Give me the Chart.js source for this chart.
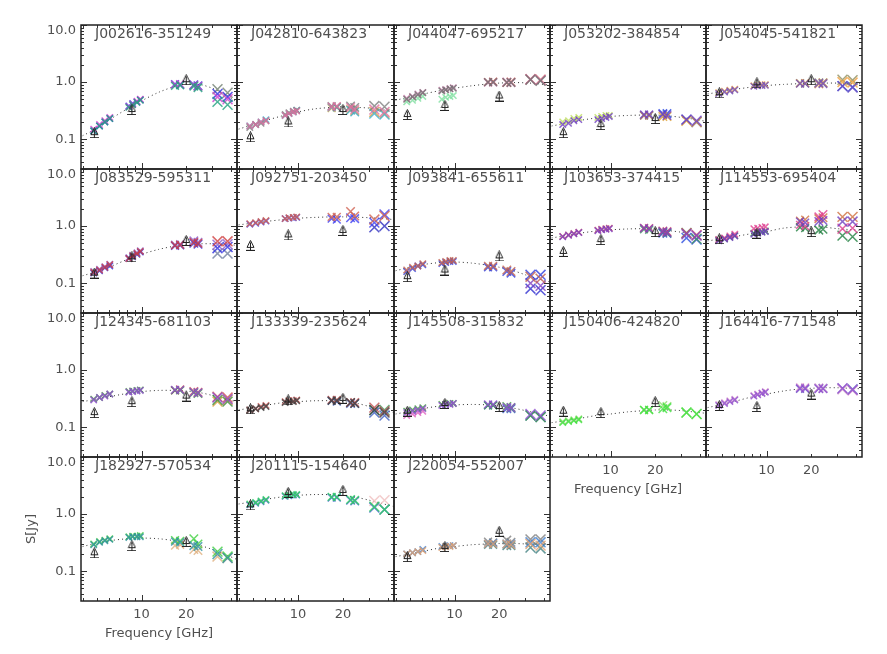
<!DOCTYPE html>
<html>
<head>
<meta charset="utf-8">
<script src="https://cdn.jsdelivr.net/npm/chart.js@4.4.0/dist/chart.umd.min.js"></script>
<style>
  html, body { margin: 0; padding: 0; background: #fff; }
  #page { position: relative; width: 887px; height: 654px; overflow: hidden; background: #fff; }
  #page canvas { position: absolute; }
</style>
</head>
<body>
<div id="page"></div>
<script>
const _ = null;

const NAMES = [
  'J002616-351249', 'J042810-643823', 'J044047-695217', 'J053202-384854', 'J054045-541821',
  'J083529-595311', 'J092751-203450', 'J093841-655611', 'J103653-374415', 'J114553-695404',
  'J124345-681103', 'J133339-235624', 'J145508-315832', 'J150406-424820', 'J164416-771548',
  'J182927-570534', 'J201115-154640', 'J220054-552007',
];

// frequencies [GHz] of the monitoring sub-bands (crosses)
const FREQ = [4.75, 5.2, 5.65, 6.1, 8.2, 8.7, 9.3, 9.8, 16.8, 18.2, 22.5, 24.0, 32.5, 38.0];
// AT20G points (triangles)
const AT20G_FREQ = [4.8, 8.6, 20];
const FIT_FREQ = [4, 5, 6, 8, 10, 13, 17, 20, 25, 30, 36, 44];

const X_TICKS = [10, 20];
const Y_TICKS = [0.1, 1, 10];

// AT20G flux [Jy] per source
const AT20G_FLUX = [
  [0.13, 0.33, 1.1],
  [0.11, 0.2, 0.33],
  [0.27, 0.39, 0.57],
  [0.13, 0.18, 0.23],
  [0.65, 0.97, 1.1],
  [0.15, 0.29, 0.56],
  [0.46, 0.7, 0.84],
  [0.13, 0.17, 0.3],
  [0.36, 0.58, 0.8],
  [0.6, 0.75, 0.8],
  [0.18, 0.28, 0.35],
  [0.21, 0.3, 0.32],
  [0.19, 0.26, 0.23],
  [0.19, 0.18, 0.28],
  [0.24, 0.23, 0.38],
  [0.21, 0.28, 0.33],
  [1.45, 2.4, 2.6],
  [0.18, 0.27, 0.5],
];

// fitted curve [Jy] at FIT_FREQ per source
const FIT_FLUX = [
  [0.115, 0.155, 0.215, 0.34, 0.47, 0.66, 0.85, 0.93, 0.9, 0.78, 0.62, 0.45],
  [0.15, 0.18, 0.21, 0.26, 0.3, 0.34, 0.36, 0.37, 0.36, 0.35, 0.33, 0.31],
  [0.48, 0.55, 0.61, 0.71, 0.78, 0.86, 0.93, 0.96, 0.98, 0.97, 0.94, 0.88],
  [0.17, 0.19, 0.21, 0.235, 0.25, 0.26, 0.265, 0.265, 0.255, 0.24, 0.225, 0.205],
  [0.62, 0.68, 0.74, 0.82, 0.87, 0.91, 0.94, 0.95, 0.96, 0.96, 0.95, 0.93],
  [0.135, 0.16, 0.19, 0.26, 0.32, 0.39, 0.45, 0.48, 0.49, 0.49, 0.48, 0.46],
  [1.05, 1.13, 1.2, 1.3, 1.37, 1.42, 1.45, 1.45, 1.43, 1.4, 1.36, 1.3],
  [0.165, 0.19, 0.21, 0.23, 0.235, 0.225, 0.205, 0.19, 0.165, 0.14, 0.12, 0.105],
  [0.62, 0.68, 0.74, 0.82, 0.86, 0.89, 0.9, 0.88, 0.83, 0.78, 0.72, 0.66],
  [0.55, 0.6, 0.65, 0.74, 0.8, 0.92, 0.97, 0.98, 0.95, 0.9, 0.87, 0.84],
  [0.28, 0.31, 0.34, 0.39, 0.42, 0.44, 0.44, 0.43, 0.4, 0.36, 0.32, 0.28],
  [0.2, 0.22, 0.24, 0.27, 0.28, 0.29, 0.29, 0.28, 0.26, 0.23, 0.2, 0.18],
  [0.17, 0.19, 0.21, 0.235, 0.245, 0.25, 0.245, 0.235, 0.215, 0.195, 0.175, 0.155],
  [0.12, 0.13, 0.14, 0.16, 0.17, 0.185, 0.195, 0.2, 0.2, 0.195, 0.185, 0.175],
  [0.22, 0.25, 0.28, 0.34, 0.38, 0.43, 0.47, 0.48, 0.49, 0.49, 0.48, 0.47],
  [0.27, 0.31, 0.34, 0.37, 0.38, 0.37, 0.34, 0.32, 0.28, 0.24, 0.2, 0.16],
  [1.5, 1.65, 1.8, 2.02, 2.13, 2.2, 2.18, 2.12, 1.95, 1.75, 1.55, 1.35],
  [0.18, 0.2, 0.22, 0.255, 0.27, 0.29, 0.3, 0.305, 0.305, 0.3, 0.295, 0.29],
];

// flux [Jy] at FREQ for each observing epoch, per source
const EPOCH_FLUX = [
  [ [0.14, 0.17, 0.2, 0.23, 0.36, 0.4, 0.44, 0.48, 0.86, 0.88, 0.85, 0.8, 0.45, 0.4],
    [0.15, 0.18, 0.21, 0.24, 0.37, 0.41, 0.46, 0.5, 0.9, 0.92, 0.88, 0.84, 0.55, 0.5],
    [0.14, 0.17, 0.2, 0.23, 0.38, 0.42, 0.45, 0.49, 0.92, 0.9, 0.9, 0.86, 0.62, 0.55],
    [_, _, _, _, _, _, _, _, _, _, _, _, 0.75, 0.65] ],
  [ [0.17, 0.18, 0.2, 0.21, 0.26, 0.28, 0.3, 0.31, 0.37, 0.38, 0.36, 0.33, 0.33, 0.3],
    [0.16, 0.18, 0.19, 0.21, 0.27, 0.29, 0.31, 0.32, 0.38, 0.37, 0.38, 0.36, 0.38, 0.37],
    [0.17, 0.18, 0.2, 0.22, 0.26, 0.28, 0.3, 0.32, 0.36, 0.36, 0.32, 0.3, 0.28, 0.27],
    [_, _, _, _, _, _, _, _, 0.35, 0.36, 0.33, 0.31, 0.3, 0.28] ],
  [ [0.5, 0.55, 0.6, 0.65, 0.7, 0.73, 0.76, 0.78, 1.0, 1.0, 0.98, 0.98, 1.1, 1.05],
    [0.52, 0.56, 0.62, 0.66, 0.72, 0.74, 0.77, 0.8, 0.98, 0.98, 1.0, 0.97, 1.12, 1.08],
    [0.45, 0.48, 0.52, 0.56, 0.5, 0.54, 0.56, 0.58, _, _, _, _, _, _],
    [_, _, _, _, _, _, _, _, 1.0, 1.02, 0.98, 1.0, 1.12, 1.1] ],
  [ [0.18, 0.19, 0.21, 0.22, 0.22, 0.23, 0.24, 0.25, 0.27, 0.27, 0.27, 0.26, 0.22, 0.21],
    [0.2, 0.21, 0.23, 0.24, 0.24, 0.25, 0.26, 0.26, _, _, _, _, _, _],
    [_, _, _, _, _, _, _, _, 0.26, 0.26, 0.25, 0.25, 0.21, 0.2],
    [_, _, _, _, _, _, _, _, 0.26, 0.26, 0.28, 0.28, 0.22, 0.2] ],
  [ [0.63, 0.67, 0.7, 0.73, 0.84, 0.86, 0.87, 0.88, 0.94, 0.94, 0.95, 0.94, 0.85, 0.8],
    [0.65, 0.69, 0.72, 0.75, 0.86, 0.88, 0.9, 0.9, 0.95, 0.96, 0.93, 0.96, 1.0, 0.98],
    [_, _, _, _, _, _, _, _, 0.96, 0.95, 0.97, 0.97, 1.1, 1.08],
    [_, _, _, _, _, _, _, _, _, _, _, _, 0.85, 0.82] ],
  [ [0.155, 0.17, 0.19, 0.21, 0.27, 0.3, 0.33, 0.36, 0.46, 0.47, 0.52, 0.5, 0.54, 0.54],
    [0.15, 0.165, 0.185, 0.2, 0.27, 0.29, 0.32, 0.35, 0.45, 0.46, 0.5, 0.48, 0.41, 0.43],
    [0.16, 0.175, 0.195, 0.215, 0.28, 0.31, 0.34, 0.37, 0.47, 0.48, 0.55, 0.52, 0.47, 0.48],
    [_, _, _, _, _, _, _, _, _, _, _, _, 0.33, 0.33] ],
  [ [1.1, 1.15, 1.2, 1.25, 1.35, 1.4, 1.42, 1.45, 1.45, 1.45, 1.8, 1.5, 1.3, 1.5],
    [1.08, 1.12, 1.18, 1.22, 1.35, 1.38, 1.4, 1.42, 1.35, 1.3, 1.4, 1.35, 1.15, 1.6],
    [_, _, _, _, _, _, _, _, _, _, _, _, 0.95, 1.0] ],
  [ [0.17, 0.19, 0.2, 0.22, 0.23, 0.24, 0.25, 0.25, 0.2, 0.2, 0.17, 0.16, 0.13, 0.12],
    [0.16, 0.18, 0.2, 0.21, 0.22, 0.23, 0.24, 0.24, 0.19, 0.19, 0.16, 0.15, 0.14, 0.14],
    [_, _, _, _, _, _, _, _, _, _, _, _, 0.1, 0.09],
    [_, _, _, _, _, _, _, _, _, _, _, _, 0.08, 0.075] ],
  [ [0.65, 0.69, 0.73, 0.77, 0.83, 0.86, 0.88, 0.9, 0.92, 0.9, 0.8, 0.78, 0.72, 0.68],
    [0.66, 0.7, 0.74, 0.78, 0.85, 0.88, 0.9, 0.92, 0.93, 0.92, 0.82, 0.8, 0.75, 0.7],
    [_, _, _, _, _, _, _, _, 0.88, 0.86, 0.78, 0.76, 0.76, 0.6],
    [_, _, _, _, _, _, _, _, _, _, 0.75, 0.74, 0.62, 0.58] ],
  [ [0.55, 0.59, 0.63, 0.67, 0.72, 0.75, 0.78, 0.8, 1.2, 1.15, 1.2, 1.25, 1.2, 1.2],
    [0.58, 0.62, 0.67, 0.72, 0.9, 0.92, 0.95, 0.97, 1.05, 1.0, 1.45, 1.6, 0.9, 0.92],
    [0.57, 0.6, 0.64, 0.68, 0.75, 0.78, 0.8, 0.82, 0.95, 0.92, 0.85, 0.88, 0.68, 0.65],
    [_, _, _, _, _, _, _, _, 1.25, 1.3, 1.35, 1.4, 1.45, 1.45] ],
  [ [0.3, 0.33, 0.35, 0.38, 0.41, 0.42, 0.43, 0.44, 0.45, 0.45, 0.41, 0.4, 0.33, 0.31],
    [0.31, 0.33, 0.36, 0.38, 0.42, 0.43, 0.44, 0.45, 0.44, 0.44, 0.4, 0.39, 0.3, 0.28],
    [_, _, _, _, _, _, _, _, 0.44, 0.46, 0.42, 0.41, 0.34, 0.33],
    [_, _, _, _, _, _, _, _, _, _, _, _, 0.28, 0.3] ],
  [ [0.2, 0.21, 0.22, 0.23, 0.27, 0.28, 0.28, 0.29, 0.29, 0.29, 0.27, 0.26, 0.2, 0.18],
    [0.2, 0.21, 0.23, 0.24, 0.28, 0.29, 0.29, 0.3, 0.3, 0.3, 0.27, 0.27, 0.22, 0.19],
    [_, _, _, _, _, _, _, _, 0.29, 0.28, 0.26, 0.26, 0.18, 0.16],
    [_, _, _, _, _, _, _, _, _, _, _, _, 0.2, 0.2] ],
  [ [0.18, 0.19, 0.2, 0.21, 0.24, 0.25, 0.25, 0.26, 0.25, 0.25, 0.22, 0.22, 0.17, 0.16],
    [0.19, 0.2, 0.21, 0.22, 0.25, 0.25, 0.26, 0.26, 0.24, 0.24, 0.23, 0.22, 0.16, 0.15],
    [0.16, 0.17, 0.18, 0.19, _, _, _, _, _, _, _, _, _, _],
    [_, _, _, _, _, _, _, _, 0.24, 0.24, 0.21, 0.21, 0.16, 0.15] ],
  [ [0.12, 0.125, 0.13, 0.135, _, _, _, _, 0.2, 0.2, 0.21, 0.22, 0.18, 0.17],
    [0.125, 0.13, 0.135, 0.14, _, _, _, _, 0.2, 0.2, 0.24, 0.23, 0.18, 0.17] ],
  [ [0.24, 0.26, 0.28, 0.3, 0.35, 0.37, 0.39, 0.41, 0.48, 0.48, 0.47, 0.47, 0.48, 0.45],
    [0.25, 0.27, 0.29, 0.31, 0.36, 0.38, 0.4, 0.42, 0.5, 0.5, 0.49, 0.48, 0.46, 0.44],
    [_, _, _, _, _, _, _, _, 0.47, 0.47, 0.48, 0.48, 0.47, 0.46] ],
  [ [0.29, 0.32, 0.34, 0.36, 0.39, 0.4, 0.4, 0.4, 0.33, 0.32, 0.28, 0.27, 0.2, 0.17],
    [0.3, 0.33, 0.35, 0.37, 0.4, 0.41, 0.41, 0.42, 0.35, 0.34, 0.37, 0.3, 0.22, 0.18],
    [_, _, _, _, _, _, _, _, 0.28, 0.29, 0.24, 0.23, 0.18, 0.17] ],
  [ [1.5, 1.6, 1.7, 1.8, 2.1, 2.15, 2.2, 2.2, 2.0, 2.0, 1.8, 1.75, 1.35, 1.2],
    [1.45, 1.55, 1.65, 1.75, 2.05, 2.1, 2.15, 2.15, 1.95, 1.95, 1.75, 1.7, 1.3, 1.2],
    [_, _, _, _, _, _, _, _, _, _, _, _, 1.7, 1.75] ],
  [ [0.2, 0.21, 0.22, 0.23, 0.26, 0.27, 0.27, 0.28, 0.3, 0.3, 0.3, 0.29, 0.3, 0.28],
    [0.2, 0.21, 0.22, 0.24, 0.27, 0.27, 0.28, 0.28, 0.3, 0.31, 0.3, 0.3, 0.32, 0.32],
    [_, _, _, _, _, _, _, _, 0.33, 0.32, 0.35, 0.32, 0.36, 0.36],
    [_, _, _, _, _, _, _, _, 0.29, 0.29, 0.28, 0.28, 0.26, 0.25] ],
];

// one colour per epoch, per source
const EPOCH_COLORS = [
  ['#20a080', '#d040d0', '#3030e0', '#708070'],
  ['#e070a0', '#808080', '#40b0d0', '#e0a040'],
  ['#707070', '#d080b0', '#80e0a0', '#d04040'],
  ['#7040c0', '#c0e060', '#e0a030', '#2040e0'],
  ['#7050c0', '#f0a040', '#909060', '#2040e0'],
  ['#d04040', '#3030e0', '#9060d0', '#7080a0'],
  ['#d06050', '#4040f0', '#3030c0'],
  ['#c06050', '#3040e0', '#8040c0', '#3030d0'],
  ['#8040c0', '#d05060', '#409060', '#3050e0'],
  ['#7040c0', '#e04090', '#208040', '#d07040'],
  ['#9050d0', '#409040', '#d05050', '#e0a040'],
  ['#404040', '#c05050', '#4060c0', '#40a060'],
  ['#9050d0', '#40a040', '#e060c0', '#3060c0'],
  ['#40e040', '#90e070'],
  ['#9050d0', '#e0a0d0', '#6060c0'],
  ['#3090a0', '#40d040', '#e0b080'],
  ['#30d060', '#4060d0', '#f0c0c0'],
  ['#e0a070', '#4080d0', '#808080', '#408080'],
];

// layout of the 5x4 grid
const X0 = 81, PW = 156.26, Y0 = 25.3, PH = 144;
const ML = 62, MT = 24, MR = 12, MB = 46;
const CROSS_R = [4.5, 4.5, 4.5, 4.5, 4.5, 4.5, 4.5, 4.5, 5.5, 5.5, 6, 6, 7, 7];
const X_MAJOR = [10], X_MINOR = [4, 5, 6, 7, 8, 9, 20, 30, 40];
const Y_MAJOR = [0.1, 1, 10];
const Y_MINOR = [0.04, 0.05, 0.06, 0.07, 0.08, 0.09, 0.2, 0.3, 0.4, 0.5, 0.6, 0.7, 0.8, 0.9, 2, 3, 4, 5, 6, 7, 8, 9];
const TEXT = '#505050';

Chart.defaults.font.family = '"DejaVu Sans", sans-serif';
Chart.defaults.font.size = 13;

// AT20G symbol: triangle over a bar
const triImg = document.createElement('canvas');
triImg.width = 9; triImg.height = 11;
(() => {
  const c = triImg.getContext('2d');
  c.strokeStyle = '#222'; c.lineWidth = 1;
  c.beginPath();
  c.moveTo(4.5, 0.5); c.lineTo(1, 7.5); c.lineTo(8, 7.5); c.closePath();
  c.moveTo(4.5, 2.5); c.lineTo(4.5, 10.5);
  c.moveTo(0, 10.5); c.lineTo(9, 10.5);
  c.stroke();
})();

function hexA(hex, a) {
  const n = parseInt(hex.slice(1), 16);
  return `rgba(${n >> 16},${(n >> 8) & 255},${n & 255},${a})`;
}

// frame, inward tick marks and source name
const framePlugin = {
  id: 'frame',
  afterDraw(chart, args, opts) {
    const { ctx, chartArea: a, scales: { x, y } } = chart;
    ctx.save();
    ctx.strokeStyle = '#333';
    ctx.lineWidth = 1;
    ctx.beginPath();
    for (const v of [...Y_MAJOR, ...Y_MINOR]) {
      const py = Math.round(y.getPixelForValue(v)) + 0.5;
      if (py < a.top - 1 || py > a.bottom + 1) continue;
      const len = Y_MAJOR.includes(v) ? 6 : 3;
      ctx.moveTo(a.left, py); ctx.lineTo(a.left + len, py);
      ctx.moveTo(a.right, py); ctx.lineTo(a.right - len, py);
    }
    for (const v of [...X_MAJOR, ...X_MINOR]) {
      const px = Math.round(x.getPixelForValue(v)) + 0.5;
      if (px < a.left - 1 || px > a.right + 1) continue;
      const len = X_MAJOR.includes(v) ? 6 : 3;
      ctx.moveTo(px, a.bottom); ctx.lineTo(px, a.bottom - len);
      ctx.moveTo(px, a.top); ctx.lineTo(px, a.top + len);
    }
    ctx.stroke();
    ctx.lineWidth = 1.5;
    ctx.strokeStyle = '#222';
    ctx.strokeRect(a.left, a.top, a.right - a.left, a.bottom - a.top);
    ctx.fillStyle = TEXT;
    ctx.font = '14px "DejaVu Sans"';
    ctx.textBaseline = 'middle';
    ctx.fillText(opts.name, a.left + 14, a.top + 9);
    ctx.restore();
  },
};

const page = document.getElementById('page');

NAMES.forEach((name, i) => {
  const col = i % 5, row = Math.floor(i / 5);
  const px = Math.round(X0 + col * PW), px2 = Math.round(X0 + (col + 1) * PW);
  const py = Math.round(Y0 + row * PH), py2 = Math.round(Y0 + (row + 1) * PH);
  const canvas = document.createElement('canvas');
  canvas.width = px2 - px + ML + MR;
  canvas.height = py2 - py + MT + MB;
  canvas.style.left = (px - ML) + 'px';
  canvas.style.top = (py - MT) + 'px';
  page.appendChild(canvas);

  const bottomOfCol = row === 3 || (row === 2 && col >= 3);
  const xTitle = (row === 3 && col === 0) || (row === 2 && col === 3);

  const datasets = [{
    data: FIT_FREQ.map((f, k) => ({ x: f, y: FIT_FLUX[i][k] })),
    showLine: true, pointRadius: 0,
    borderColor: '#333', borderWidth: 1, borderDash: [1, 3],
    tension: 0.3, order: 3,
  }];
  EPOCH_FLUX[i].forEach((vals, e) => {
    datasets.push({
      data: FREQ.map((f, k) => ({ x: f, y: vals[k] })),
      pointStyle: 'crossRot',
      pointRadius: c => CROSS_R[c.dataIndex],
      pointBorderWidth: 1.5,
      pointBorderColor: hexA(EPOCH_COLORS[i][e], 0.8),
      pointBackgroundColor: 'transparent',
      showLine: false, order: 2,
    });
  });
  datasets.push({
    data: AT20G_FREQ.map((f, k) => ({ x: f, y: AT20G_FLUX[i][k] })),
    pointStyle: triImg, pointRadius: 5, showLine: false, order: 0,
  });

  new Chart(canvas, {
    type: 'scatter',
    data: { datasets },
    plugins: [framePlugin],
    options: {
      responsive: false,
      animation: false,
      events: [],
      layout: { padding: { top: MT, right: MR, left: 0, bottom: 0 } },
      plugins: {
        legend: { display: false },
        tooltip: { enabled: false },
        frame: { name },
      },
      scales: {
        x: {
          type: 'logarithmic', min: 3.9, max: 44,
          grid: { display: false, drawTicks: false },
          border: { display: false },
          afterBuildTicks: s => { s.ticks = X_TICKS.map(v => ({ value: v })); },
          afterFit: s => { s.height = MB; },
          ticks: {
            display: bottomOfCol, autoSkip: false, maxRotation: 0, padding: 6,
            color: TEXT, callback: v => String(v),
          },
          title: {
            display: xTitle, text: 'Frequency [GHz]', color: TEXT,
            padding: { top: 0, bottom: 6 },
          },
        },
        y: {
          type: 'logarithmic', min: 0.03, max: 10,
          grid: { display: false, drawTicks: false },
          border: { display: false },
          afterBuildTicks: s => { s.ticks = Y_TICKS.map(v => ({ value: v })); },
          afterFit: s => { s.width = ML; },
          ticks: {
            display: col === 0, autoSkip: false, padding: 5,
            color: TEXT, font: { size: 13, lineHeight: 0.9 },
            // top label sits just below the frame, as in the original
            callback: v => (Number(v) === 10 ? ['', '10.0'] : Number(v).toFixed(1)),
          },
          title: {
            display: i === 15, text: 'S[Jy]', color: TEXT,
            padding: { top: 5, bottom: 0 },
          },
        },
      },
    },
  });
});
</script>
</body>
</html>
